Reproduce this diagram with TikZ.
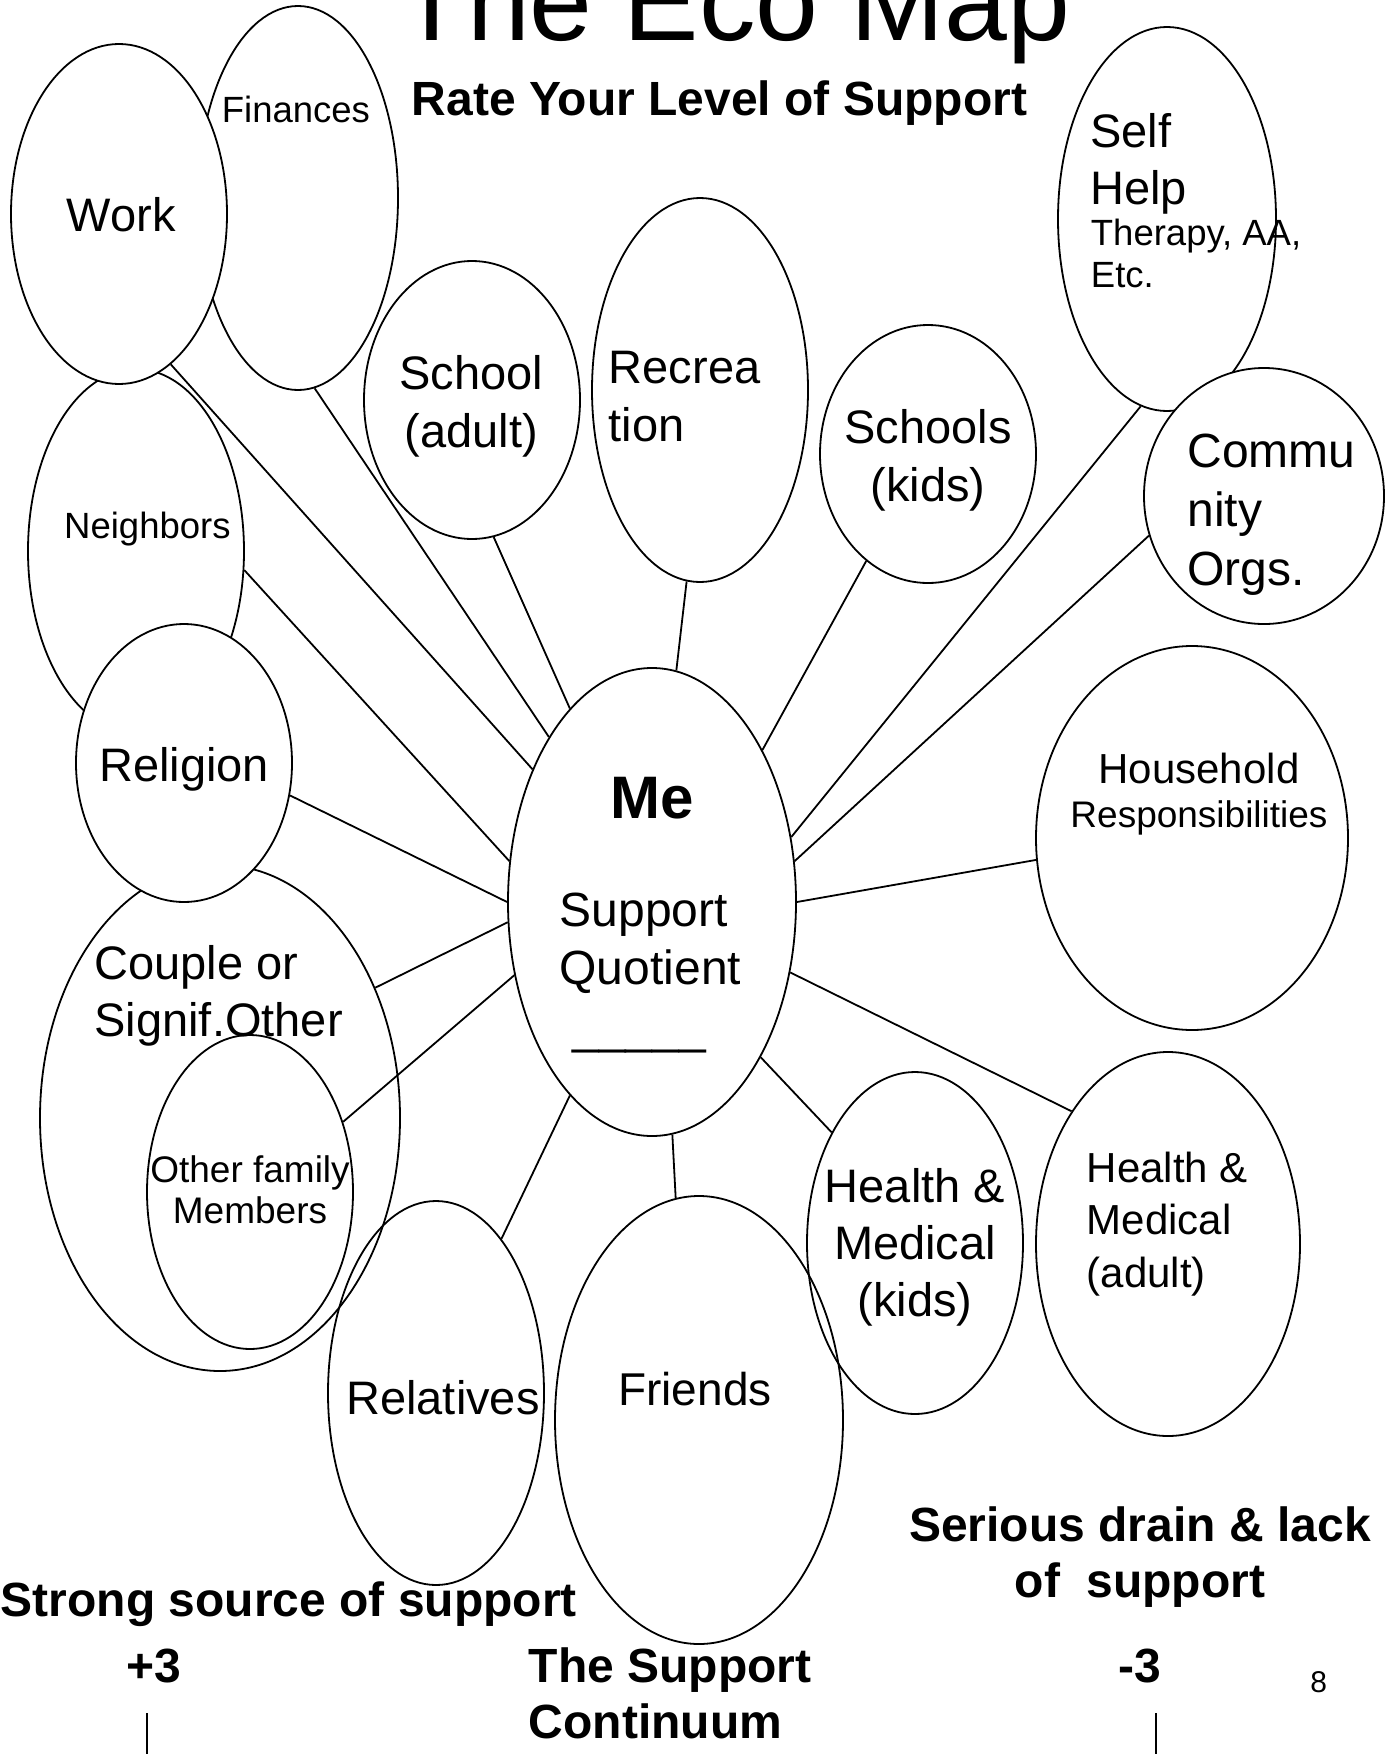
\documentclass[tikz,border=0pt]{standalone}
\usepackage{fontspec}
\setmainfont{Liberation Sans}
\usetikzlibrary{shapes.geometric}

\begin{document}
\begin{tikzpicture}[x=1bp, y=-1bp, line width=1.8bp,
            bubble/.style 2 args={draw, ellipse, inner sep=0pt, minimum width=#1bp, minimum height=#2bp},
            opaque/.style={fill=white},
            lbl/.style={inner sep=0pt, align=center, font=\fontsize{47bp}{57.6bp}\selectfont},
            lblsmall/.style={inner sep=0pt, align=center, font=\fontsize{36.5bp}{42bp}\selectfont},
            lblbold/.style={inner sep=0pt, align=center, font=\bfseries\fontsize{48bp}{56bp}\selectfont}]

            % Page
            \path[use as bounding box, fill=white] (0,0) rectangle (1394,1754);

            % Bubbles, back to front
            \node[bubble={216}{364}] (neighbors) at (136,551) {};
            \node[bubble={200}{384}] (finances) at (298,198) {};
            \node[bubble={216}{340}, opaque] (work) at (119,214) {};
            \node[bubble={360}{506}] (couple) at (220,1118) {};
            \node[bubble={216}{278}, opaque] (religion) at (184,763) {};
            \node[bubble={206}{314}] (others) at (250,1192) {};
            \node[bubble={216}{384}] (relatives) at (436,1393) {};
            \node[bubble={288}{448}] (friends) at (699,1420) {};
            \node[bubble={216}{342}] (healthkids) at (915,1243) {};
            \node[bubble={264}{384}] (healthadult) at (1168,1244) {};
            \node[bubble={312}{384}] (household) at (1192,838) {};
            \node[bubble={218}{384}] (selfhelp) at (1167,219) {};
            \node[bubble={240}{256}, opaque] (community) at (1264,496) {};
            \node[bubble={216}{258}] (schoolskids) at (928,454) {};
            \node[bubble={216}{384}] (recreation) at (700,390) {};
            \node[bubble={216}{278}] (schooladult) at (472,400) {};
            \node[bubble={288}{468}] (me) at (652,902) {};

            % Spokes to Me
            \draw (finances.275.4) -- (me.122.8);
            \draw (work.289.7) -- (me.132.7);
            \draw (neighbors.350.2) -- (me.164);
            \draw (schooladult.279.8) -- (me.113.9);
            \draw (recreation.266.1) -- (me.84.1);
            \draw (schoolskids.240.5) -- (me.54.4);
            \draw (selfhelp.262.9) -- (me.25.9);
            \draw (community.199.6) -- (me.16);
            \draw (household.188.4) -- (me.0.4);
            \draw (healthadult.126.9) -- (me.333.8);
            \draw (healthkids.127.9) -- (me.305.8);
            \draw (friends.96) -- (me.275.8);
            \draw (relatives.67.9) -- (me.247.3);
            \draw (couple.40) -- (me.188.4);
            \draw (others.37.1) -- (me.208.7);
            \draw (religion.343.4) -- (me.180);

            % Titles
            \node[lbl, font=\fontsize{113bp}{120bp}\selectfont, anchor=base] (title) at (734,40) {The Eco Map};
            \node[lblbold, anchor=base] (rate) at (719.5,115) {Rate Your Level of Support};

            % Bubble texts (multi-line texts sit on their last line)
            \node[lblsmall, anchor=base west] (lfinances) at (221,122) {Finances};
            \node[lbl, anchor=base] (lwork) at (121.4,231.5) {Work};
            \node[lbl, align=left, anchor=base west] (lselfhelp) at (1089.5,204.6) {Self\\Help};
            \node[lblsmall, align=left, anchor=base west] (ltherapy) at (1090,287) {Therapy, AA,\\Etc.};
            \node[lbl, anchor=base] (lschooladult) at (471.5,447) {School\\(adult)};
            \node[lbl, align=left, anchor=base west] (lrecreation) at (608,441) {Recrea\\tion};
            \node[lbl, anchor=base] (lschoolskids) at (928,501) {Schools\\(kids)};
            \node[lbl, align=left, anchor=base west, font=\fontsize{48bp}{58.6bp}\selectfont] (lcommunity) at (1186.5,585) {Commu\\nity\\Orgs.};
            \node[lblsmall, anchor=base] (lneighbors) at (147.4,538) {Neighbors};
            \node[lbl, font=\fontsize{42bp}{44.5bp}\selectfont, anchor=base] (lhousehold) at (1199,827.5)
                {Household\\\fontsize{37bp}{44.5bp}\selectfont Responsibilities};
            \node[lbl, anchor=base] (lreligion) at (184,781.5) {Religion};
            \node[lbl, font=\bfseries\fontsize{60bp}{66bp}\selectfont, anchor=base] (lme) at (652,818.8) {Me};
            \node[lbl, align=left, anchor=base west, font=\fontsize{48bp}{58.5bp}\selectfont] (lquotient) at (558.7,1043)
                {Support\\Quotient\\\hspace*{13bp}\_\_\_\_\_};
            \node[lbl, align=left, anchor=base west] (lcouple) at (93.6,1036.6) {Couple or\\Signif.Other};
            \node[lblsmall, font=\fontsize{37bp}{41bp}\selectfont, anchor=base] (lothers) at (250,1223) {Other family\\Members};
            \node[lbl, anchor=base] (lrelatives) at (443,1414) {Relatives};
            \node[lbl, font=\fontsize{46bp}{55bp}\selectfont, anchor=base] (lfriends) at (695,1405) {Friends};
            \node[lbl, font=\fontsize{47bp}{57bp}\selectfont, anchor=base] (lhealthkids) at (915,1316) {Health \&\\Medical\\(kids)};
            \node[lbl, align=left, font=\fontsize{42bp}{52.5bp}\selectfont, anchor=base west] (lhealthadult) at (1086,1287)
                {Health \&\\Medical\\(adult)};

            % Support continuum
            \node[lblbold, anchor=base] (drain) at (1140,1597) {Serious drain \& lack\\of\ \ support};
            \node[lblbold, anchor=base west] (strong) at (0,1616) {Strong source of support};
            \node[lblbold, anchor=base] (plus) at (154,1682) {+3};
            \node[lblbold, align=left, anchor=base west] (continuum) at (528,1738) {The Support\\Continuum};
            \node[lblbold, anchor=base] (minus) at (1140,1682) {-3};
            \node[lbl, font=\fontsize{30bp}{36bp}\selectfont, anchor=base] (pagenum) at (1318.7,1692) {8};

            % Scale ticks
            \coordinate (plustop) at (147,1713);
            \coordinate (plusend) at (147,1754);
            \coordinate (minustop) at (1155.6,1713);
            \coordinate (minusend) at (1155.6,1754);
            \draw (plustop) -- (plusend);
            \draw (minustop) -- (minusend);
\end{tikzpicture}
\end{document}
